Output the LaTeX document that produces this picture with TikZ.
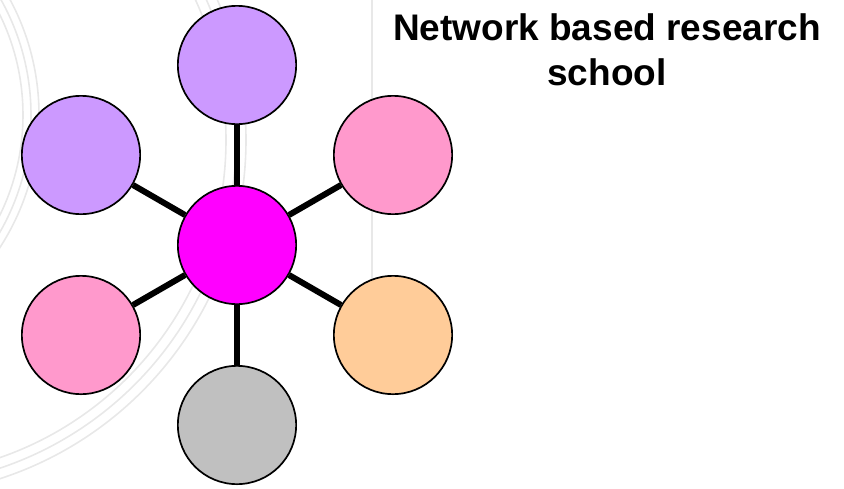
\documentclass[tikz,border=0pt]{standalone}
\usepackage{fontspec}
\setmainfont{Liberation Sans}
\usetikzlibrary{shapes,positioning}
\definecolor{lilac}{HTML}{CC99FF}
\definecolor{rose}{HTML}{FF99CC}
\definecolor{peach}{HTML}{FFCC99}
\definecolor{silver}{HTML}{C0C0C0}
\definecolor{hubpink}{HTML}{FF00FF}
\tikzstyle{member} = [circle, draw, line width=1.7pt, 
minimum size=118.3pt, inner sep=0pt]
\tikzstyle{line} = [draw, line width=6pt]
\tikzstyle{swirl} = [draw=black!9, line width=1.6pt]
\begin{document}
\begin{tikzpicture}[x=1pt,y=-1pt,on grid]
\useasboundingbox (0,0) rectangle (844,488);
% faint background rings
\begin{scope}
\clip (0,0) rectangle (844,488);
\foreach \r in {228,236,244}
  \draw [swirl] (-205,115) circle (\r pt);
\foreach \r in {336,346,356}
  \draw [swirl] (-110,140) circle (\r pt);
\draw [swirl] (372,0) -- (372,285);
\end{scope}
 \node [member, fill=hubpink] (hub) at (237,245) {};
 \node [member, fill=lilac, above=180pt of hub] (N) {};
 \node [member, fill=rose, above right=90pt and 156pt of hub] (NE) {};
 \node [member, fill=peach, below right=90pt and 156pt of hub] (SE) {};
 \node [member, fill=silver, below=180pt of hub] (S) {};
 \node [member, fill=rose, below left=90pt and 156pt of hub] (SW) {};
 \node [member, fill=lilac, above left=90pt and 156pt of hub] (NW) {};
 \foreach \m in {N,NE,SE,S,SW,NW}
   \path [line] (hub) -- (\m);
 \node [font=\bfseries\fontsize{37}{45}\selectfont, align=center] (title) at (607,50)
   {Network based research\\school};
\end{tikzpicture}
\end{document}
